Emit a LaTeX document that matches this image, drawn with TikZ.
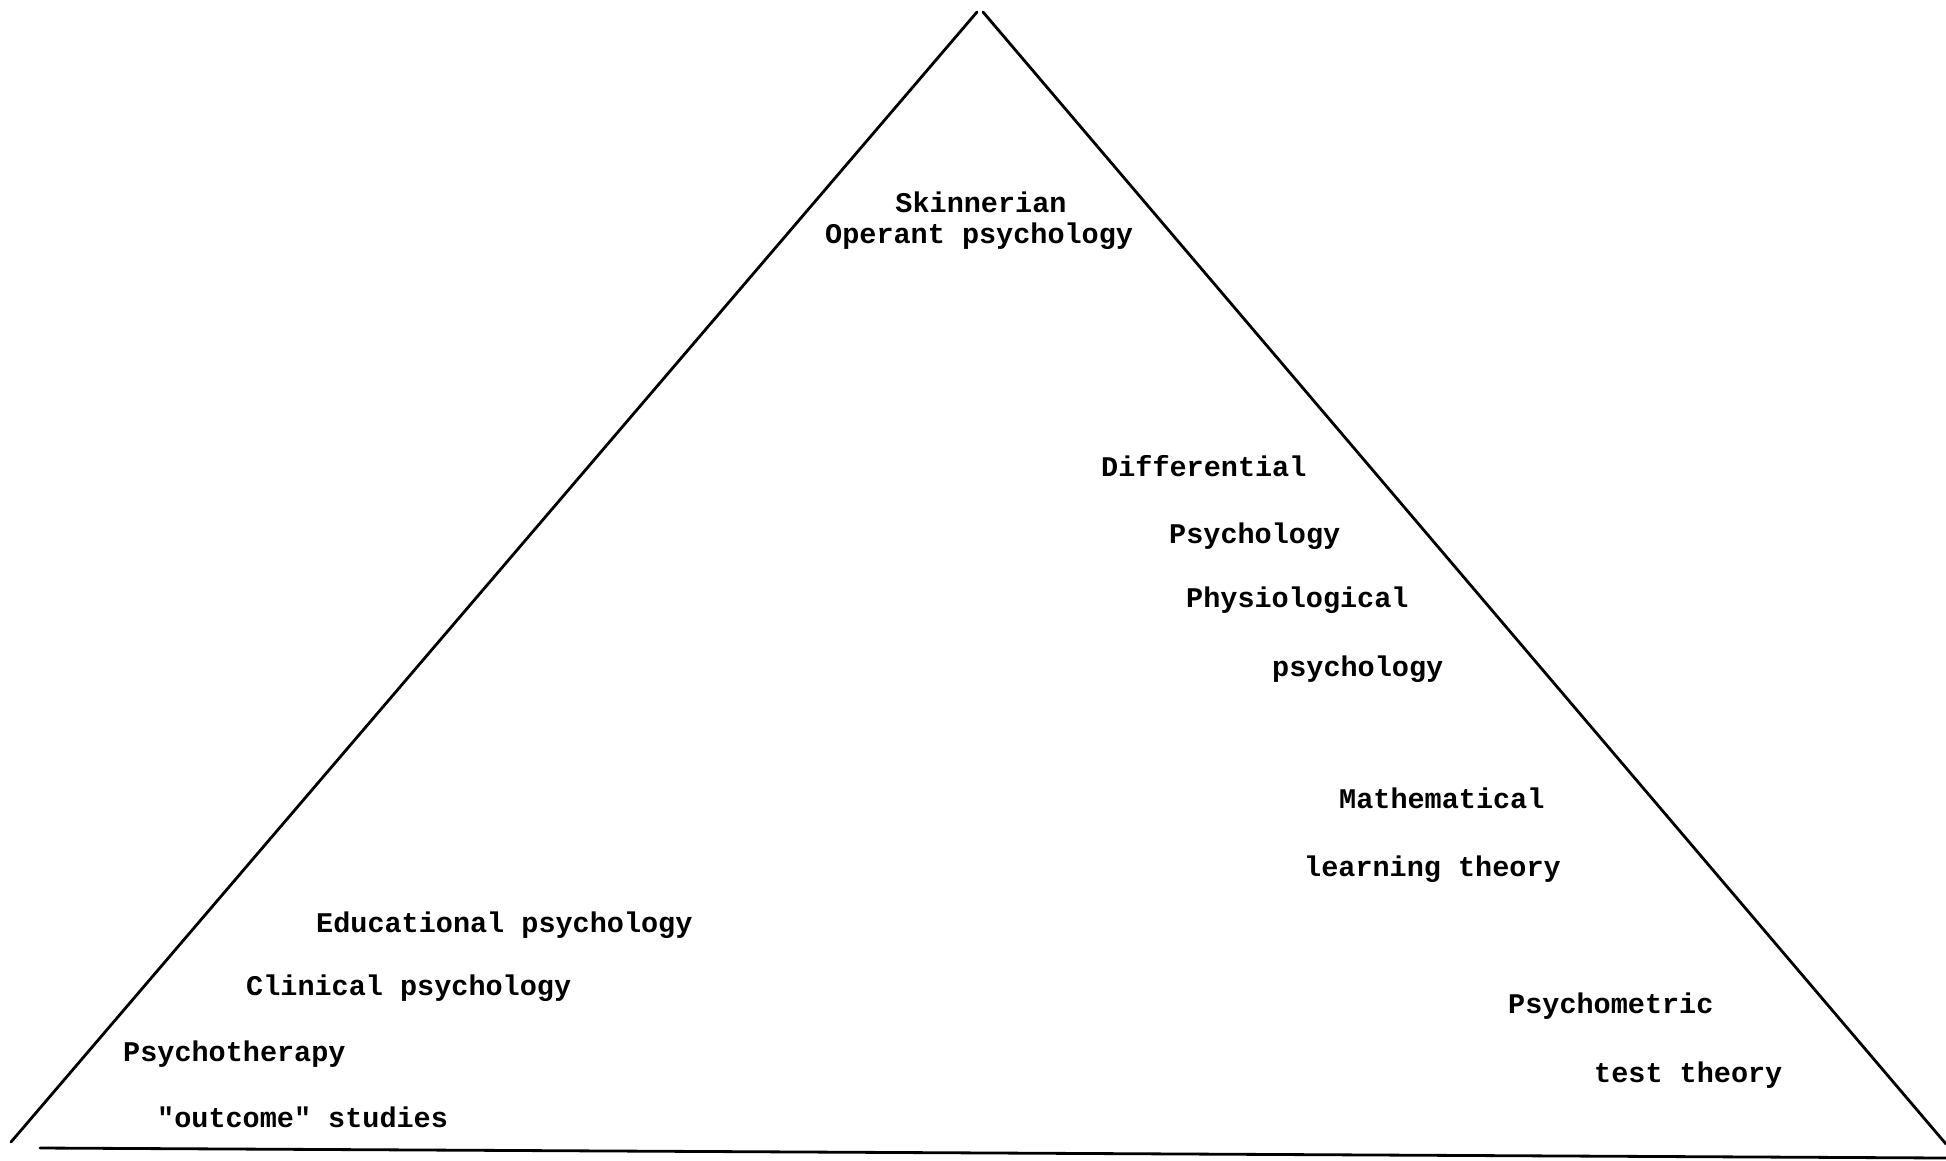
\documentclass[tikz,border=0pt]{standalone}
\usepackage{fontspec}
\setmonofont{Liberation Mono}
\newfontfamily\typeA[Scale=1]{Liberation Mono}
\begin{document}
\begin{tikzpicture}[x=1pt,y=-1pt,
  edge/.style={line width=2.8pt,line cap=round},
  bigtype/.style={anchor=base west,inner sep=0pt,font=\typeA\bfseries\fontsize{28.5}{30}\selectfont},
  smalltype/.style={anchor=base west,inner sep=0pt,font=\typeA\bfseries\fontsize{28.5}{30}\selectfont}]
\useasboundingbox (0,0) rectangle (1946,1160);
\fill[white] (0,0) rectangle (1946,1160);
% triangle corners
\coordinate (apexL) at (977,12);
\coordinate (apexR) at (983,12);
\coordinate (botL) at (11,1142);
\coordinate (botR) at (1946,1144);
\coordinate (baseL) at (40,1148);
\coordinate (baseR) at (1946,1158);
\draw[edge] (apexL) -- (botL);
\draw[edge] (apexR) -- (botR);
\draw[edge] (baseL) -- (baseR);
% labels
\node[bigtype,anchor=base] (skin) at (981,212) {Skinnerian};
\node[bigtype] (oper) at (825,243) {Operant psychology};
\node[bigtype] (diff) at (1101,476) {Differential};
\node[bigtype] (dpsy) at (1169,543) {Psychology};
\node[bigtype] (phys) at (1186,607) {Physiological};
\node[bigtype] (ppsy) at (1272,676) {psychology};
\node[bigtype] (math) at (1339,808) {Mathematical};
\node[bigtype] (lear) at (1304,876) {learning theory};
\node[bigtype] (psym) at (1508,1013) {Psychometric};
\node[bigtype] (test) at (1594,1082) {test theory};
\node[smalltype] (educ) at (316,932) {Educational psychology};
\node[smalltype] (clin) at (246,995) {Clinical psychology};
\node[smalltype] (ther) at (123,1061) {Psychotherapy};
\node[smalltype] (outc) at (157,1127) {"outcome" studies};
\end{tikzpicture}
\end{document}
